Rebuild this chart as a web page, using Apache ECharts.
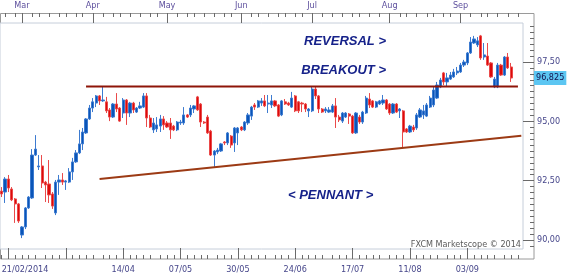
<!DOCTYPE html>
<html><head><meta charset="utf-8">
<script src="https://cdn.jsdelivr.net/npm/echarts@6/dist/echarts.min.js"></script>
<style>html,body{margin:0;padding:0;background:#fff}#c{width:576px;height:278px}</style>
</head><body><div id="c"></div>
<script>
// ---------------- data ----------------
const startDate = '2014-02-21';
const sessions = 155; // 152 candles + 3 empty sessions up to the right edge
const opens = [92.06,92.02,92.57,92.15,91.73,91.52,90.21,90.55,91.35,91.77,
93.58,93.08,93.12,92.44,92.36,91.94,91.14,92.44,92.53,92.44,
92.44,92.87,93.29,93.67,94.05,94.51,95.10,95.56,95.77,96.07,
95.86,95.82,95.48,95.18,95.73,95.56,95.35,95.90,95.35,95.77,
95.39,95.56,95.60,96.07,95.14,94.64,94.68,94.80,95.10,94.93,
94.93,94.80,94.64,94.93,94.93,95.27,95.27,95.52,96.03,95.73,
94.97,95.18,94.59,93.58,93.71,93.75,94.13,94.09,94.38,94.09,
94.51,94.76,94.64,94.93,95.22,95.69,95.60,95.77,95.86,95.73,
95.69,95.86,95.69,95.27,95.82,95.77,95.60,96.07,95.82,95.77,
95.73,95.44,95.44,96.36,96.07,95.52,95.44,95.39,95.39,95.65,
95.18,95.01,95.18,95.31,95.22,94.51,95.18,94.97,95.35,95.94,
95.86,95.60,95.73,95.77,95.90,95.73,95.35,95.73,95.44,95.44,
94.68,94.55,94.76,94.72,95.18,95.27,95.22,95.60,95.69,95.98,
96.45,97.04,96.66,96.78,96.87,97.04,97.08,97.37,97.46,97.88,
98.30,98.22,98.60,97.71,97.75,97.46,96.45,96.45,97.37,96.95,
97.71,97.29];
const closes = [91.94,92.57,92.19,91.69,91.52,90.80,90.55,91.35,91.81,93.58,
93.83,93.12,92.40,92.32,91.90,91.43,92.44,92.53,92.44,92.49,
92.87,93.29,93.67,94.05,94.55,95.10,95.56,95.82,96.07,95.86,
95.90,95.44,95.18,95.73,95.52,95.01,95.90,95.35,95.77,95.48,
95.56,95.65,96.07,95.14,94.76,94.93,94.85,95.10,94.85,94.76,
94.64,94.64,94.97,94.97,95.27,95.18,95.56,95.65,95.48,94.97,
94.93,94.51,93.58,93.75,93.79,94.05,94.09,94.51,94.00,94.72,
94.72,94.64,94.97,95.27,95.60,95.60,95.86,95.86,95.65,95.77,
95.86,95.65,95.22,95.86,95.73,95.69,95.98,95.44,95.44,95.73,
95.52,95.52,96.36,96.07,95.52,95.39,95.52,95.48,95.65,95.18,
95.06,95.35,95.35,95.22,94.51,95.35,94.97,95.39,95.98,95.69,
95.60,95.82,95.86,95.90,95.52,95.35,95.73,95.39,95.52,94.55,
94.55,94.80,94.64,95.27,95.48,95.44,95.69,95.98,96.32,96.53,
96.74,96.66,96.83,96.95,97.08,97.12,97.37,97.50,97.88,98.34,
98.47,98.39,97.67,97.80,97.37,96.87,96.78,97.37,96.95,97.71,
97.25,96.825];
const highs = [92.23,92.65,92.74,92.23,91.77,91.56,90.59,91.39,91.85,93.83,
94.42,93.58,93.58,92.49,93.37,92.02,92.53,92.74,92.82,92.53,
93.03,93.46,93.79,94.64,94.72,95.14,95.69,95.98,96.11,96.11,
96.45,96.03,95.56,95.77,96.19,95.60,95.98,95.94,95.82,95.82,
95.60,95.82,96.19,96.19,95.27,95.14,95.18,95.27,95.22,95.01,
95.14,94.85,95.01,95.06,95.60,95.31,95.69,95.69,96.07,95.77,
95.01,95.27,94.64,93.79,93.88,94.09,94.17,94.55,94.42,94.76,
94.76,94.80,95.01,95.35,95.65,95.77,95.90,95.98,96.11,96.11,
96.11,95.90,95.73,95.90,95.94,95.82,96.24,96.11,95.86,95.82,
95.77,95.56,96.45,96.45,96.11,95.56,95.60,95.60,95.73,95.98,
95.27,95.39,95.39,95.35,95.27,95.39,95.27,95.44,96.07,96.19,
95.90,95.86,95.90,96.11,95.94,95.77,95.77,95.77,95.56,95.48,
94.72,94.85,94.85,95.35,95.56,95.69,95.77,96.07,96.45,96.66,
96.83,97.08,97.04,97.08,97.21,97.29,97.46,97.59,97.92,98.55,
98.60,98.55,98.64,98.30,98.30,97.50,96.87,97.46,97.42,97.75,
97.88,97.46];
const lows = [91.81,91.56,92.02,91.64,90.72,90.72,90.08,90.46,91.31,91.73,
93.54,92.95,92.19,91.60,91.56,91.31,91.05,91.90,92.32,92.11,
92.40,92.53,93.25,93.62,93.79,94.47,95.06,95.39,95.60,95.69,
95.82,95.35,95.01,95.14,95.39,94.98,95.14,94.85,95.18,95.35,
95.35,95.52,95.56,94.76,94.72,94.51,94.55,94.55,94.64,94.72,
94.26,94.59,94.59,94.85,94.85,95.14,95.18,95.35,95.44,94.76,
94.89,94.47,93.54,93.08,93.62,93.71,94.00,94.00,93.88,93.71,
94.00,94.59,94.59,94.85,95.06,95.48,95.56,95.65,95.60,95.35,
95.56,95.60,95.18,95.22,95.69,95.65,95.56,95.39,95.35,95.39,
95.39,95.18,95.39,95.94,95.35,95.35,95.35,95.35,95.35,94.72,
94.97,94.93,95.14,94.89,94.47,94.47,94.89,94.89,95.31,95.56,
95.56,95.56,95.69,95.69,95.48,95.27,95.31,95.35,95.14,93.88,
94.51,94.51,94.55,94.64,95.14,95.10,95.18,95.56,95.60,95.94,
96.40,96.53,96.45,96.74,96.83,96.95,97.04,97.29,97.37,97.84,
98.26,98.13,97.59,97.59,97.33,96.83,96.40,96.40,96.91,96.91,
97.21,96.66];
const resistanceDates = ['2014-03-28','2014-09-24'];
const resistanceValues = [96.47, 96.47];
const trendDates = ['2014-04-03','2014-09-25'];
const trendValues = [92.57, 94.39];
const monthLabels = ['Mar','Apr','May','Jun','Jul','Aug','Sep'];
const bottomLabelDates = ['2014-02-21','2014-04-14','2014-05-07','2014-05-30','2014-06-24','2014-07-17','2014-08-11','2014-09-03'];
const priceTickLabels = [90, 92.5, 95, 97.5];
const annotations = ['REVERSAL >','BREAKOUT >','< PENNANT >'];
const copyright = 'FXCM Marketscope \u00a9 2014';

// ---------------- categories ----------------
const full = [];
for (let t = Date.UTC(2014,1,3); t <= Date.UTC(2014,8,30); t += 86400000) {
  const d = new Date(t); const w = d.getUTCDay();
  if (w > 0 && w < 6) full.push(d.toISOString().slice(0,10));
}
const s0 = full.indexOf(startDate);
const dates = full.slice(s0, s0 + sessions);
const mStartsFull = [];
full.forEach((d,i)=>{ if (i===0 || d.slice(5,7)!==full[i-1].slice(5,7)) mStartsFull.push(i); });
const topMajor = new Set(), topMinor = new Set();
mStartsFull.forEach((a,k)=>{
  const b = k+1 < mStartsFull.length ? mStartsFull[k+1] : full.length;
  const ra = a - s0;
  if (ra >= 0 && ra < sessions) topMajor.add(ra);
  for (let j=1;j<8;j++){ const r = a + Math.round(j*(b-a)/8) - s0; if (r>=0 && r<sessions) topMinor.add(r); }
});
const topMajorList = [...topMajor].sort((x,y)=>x-y);
const bottomLabelIdx = new Set(bottomLabelDates.map(d=>dates.indexOf(d)));
const anchor = dates.indexOf(bottomLabelDates[1]);
const step = 17;
const minorOffs = [2,4,6,8,11,13,15];
const isBottomMajor = i => ((i-anchor)%step+step)%step===0;
const isBottomMinor = i => minorOffs.includes(((i-anchor)%step+step)%step);

const candles = opens.map((o,i)=>[o, closes[i], lows[i], highs[i]]);
const lastPrice = closes[closes.length-1];

// y scale (plot top 23 / bottom 249)
const yMax = 99.143, yMin = 89.621;
const minorTicks = []; for (let v = 89.75; v <= 99.0001; v += 0.25) minorTicks.push(+v.toFixed(2));

const FONT = "'DejaVu Sans Condensed','Liberation Sans',sans-serif";
const tickCol = '#6a6a6a';
const chart = echarts.init(document.getElementById('c'), null, {renderer:'canvas'});
const baseX = {type:'category', data:dates, boundaryGap:true, gridIndex:0,
  axisLine:{show:false}, splitLine:{show:false}};
chart.setOption({
  animation:false,
  backgroundColor:'#ffffff',
  grid:{left:0, right:53, top:23, bottom:29, containLabel:false, outerBoundsMode:'none',
    show:true, borderColor:'#c6ceda', borderWidth:1, backgroundColor:'#ffffff'},
  xAxis:[
    Object.assign({}, baseX, {position:'bottom', offset:10,
      axisTick:{show:true, inside:true, length:11, alignWithLabel:true, interval:(i)=>isBottomMajor(i), lineStyle:{color:tickCol}},
      axisLabel:{show:true, interval:(i)=>bottomLabelIdx.has(i), alignMinLabel:'left', margin:6,
        color:'#46468a', fontSize:9, fontFamily:FONT,
        formatter:(v,i)=>{const p=v.split('-'); return i===0? p[2]+'/'+p[1]+'/'+p[0] : p[2]+'/'+p[1];}}}),
    Object.assign({}, baseX, {position:'bottom', offset:10,
      axisTick:{show:true, inside:true, length:4, alignWithLabel:true, interval:(i)=>isBottomMinor(i), lineStyle:{color:tickCol}},
      axisLabel:{show:false}}),
    Object.assign({}, baseX, {position:'top', offset:10,
      axisTick:{show:true, inside:true, length:10, alignWithLabel:true, interval:(i)=>topMajor.has(i), lineStyle:{color:tickCol}},
      axisLabel:{show:true, interval:(i)=>topMajor.has(i), margin:3, color:'#5d4f9d', fontSize:9, fontFamily:FONT,
        formatter:(v)=>{const k=topMajorList.indexOf(dates.indexOf(v)); return monthLabels[k]||'';}}}),
    Object.assign({}, baseX, {position:'top', offset:10,
      axisTick:{show:true, inside:true, length:4, alignWithLabel:true, interval:(i)=>topMinor.has(i), lineStyle:{color:tickCol}},
      axisLabel:{show:false}})
  ],
  yAxis:[
    {type:'value', position:'right', offset:11, min:yMin, max:yMax, gridIndex:0,
      axisLine:{show:false}, splitLine:{show:false},
      axisTick:{show:true, inside:true, length:11, customValues:priceTickLabels, lineStyle:{color:tickCol}},
      axisLabel:{show:true, customValues:priceTickLabels, margin:3, color:'#46468a', fontSize:9, fontFamily:FONT,
        formatter:(v)=>v.toFixed(2).replace('.',',')}},
    {type:'value', position:'right', offset:11, min:yMin, max:yMax, gridIndex:0,
      axisLine:{show:false}, splitLine:{show:false},
      axisTick:{show:true, inside:true, length:4, customValues:minorTicks, lineStyle:{color:tickCol}},
      axisLabel:{show:false}}
  ],
  series:[
    {type:'candlestick', xAxisIndex:0, yAxisIndex:0, data:candles, barWidth:'80%',
      itemStyle:{color:'#0a55b8', color0:'#dc0a0a', borderColor:'#3d7bd0', borderColor0:'#ea4a4a', borderWidth:1},
      markLine:{silent:true, symbol:['none','none'], animation:false,
        lineStyle:{color:'rgba(0,0,0,0)', width:1, type:'solid'},
        label:{show:true, position:'end', distance:11, formatter:()=>lastPrice.toFixed(3).replace('.',','),
          backgroundColor:'#5cc6f2', color:'#12124e', padding:[3,2,2,2], fontSize:9, fontFamily:FONT, opacity:1},
        data:[{yAxis:lastPrice}]}},
    {type:'line', xAxisIndex:0, yAxisIndex:0, z:5, symbol:'none', silent:true,
      data:resistanceDates.map((d,i)=>[d, resistanceValues[i]]),
      lineStyle:{color:'#8e1508', width:2}},
    {type:'line', xAxisIndex:0, yAxisIndex:0, z:5, symbol:'none', silent:true,
      data:trendDates.map((d,i)=>[d, trendValues[i]]),
      lineStyle:{color:'#9c3a14', width:2}}
  ],
  graphic:[
    {type:'rect', z:-1, silent:true, shape:{x:0.5, y:13.5, width:533.5, height:245.5},
      style:{fill:'none', stroke:'#9a9a9a', lineWidth:1}},
    {type:'text', x:386, y:41, silent:true, style:{text:annotations[0], align:'right', verticalAlign:'middle',
      font:"italic bold 13px 'Liberation Sans', Arial, sans-serif", fill:'#16228a'}},
    {type:'text', x:386, y:70, silent:true, style:{text:annotations[1], align:'right', verticalAlign:'middle',
      font:"italic bold 13px 'Liberation Sans', Arial, sans-serif", fill:'#16228a'}},
    {type:'text', x:288, y:195, silent:true, style:{text:annotations[2], align:'left', verticalAlign:'middle',
      font:"italic bold 13px 'Liberation Sans', Arial, sans-serif", fill:'#16228a'}},
    {type:'text', x:521, y:245, silent:true, style:{text:copyright, align:'right', verticalAlign:'middle',
      font:"9px "+FONT, fill:'#5a5a5a'}}
  ]
});
</script></body></html>
